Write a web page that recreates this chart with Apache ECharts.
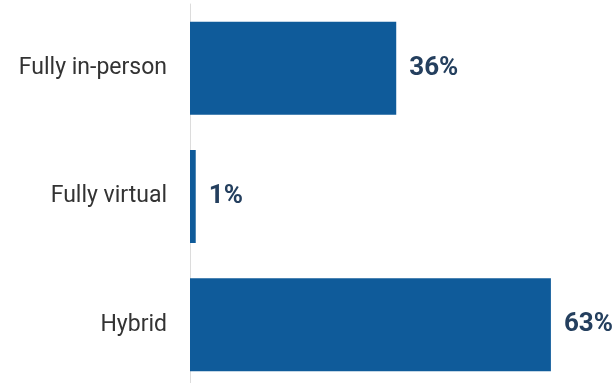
<!DOCTYPE html>
<html>
<head>
<meta charset="utf-8">
<script src="https://cdn.jsdelivr.net/npm/echarts@6/dist/echarts.min.js"></script>
<style>
    html, body { margin: 0; padding: 0; background: #fff; }
    #chart { width: 613px; height: 383px; }
</style>
</head>
<body>
<div id="chart"></div>
<script>
// data
let categories = ['Fully in-person', 'Fully virtual', 'Hybrid'];
let shares = [36, 1, 63];

let chart = echarts.init(document.getElementById('chart'));

let option = {
    animation: false,
    grid: {
        left: 190,
        right: 22,
        top: 4,
        bottom: -6,
        outerBoundsMode: 'none'
    },
    xAxis: {
        type: 'value',
        min: 0,
        max: 70,
        show: false
    },
    yAxis: {
        type: 'category',
        inverse: true,
        data: categories,
        axisLine: {
            show: true,
            lineStyle: { color: '#dcdcdc', width: 1 }
        },
        axisTick: { show: false },
        axisLabel: {
            margin: 23,
            fontFamily: 'Roboto',
            fontSize: 23,
            color: '#333'
        }
    },
    series: [{
        type: 'bar',
        data: shares,
        barWidth: 93,
        itemStyle: { color: '#0f5b9a' },
        label: {
            show: true,
            position: 'right',
            distance: 13,
            formatter: '{c}%',
            fontFamily: 'Roboto',
            fontWeight: 'bold',
            fontSize: 26,
            color: '#243f5e'
        }
    }]
};

chart.setOption(option);
</script>
</body>
</html>
